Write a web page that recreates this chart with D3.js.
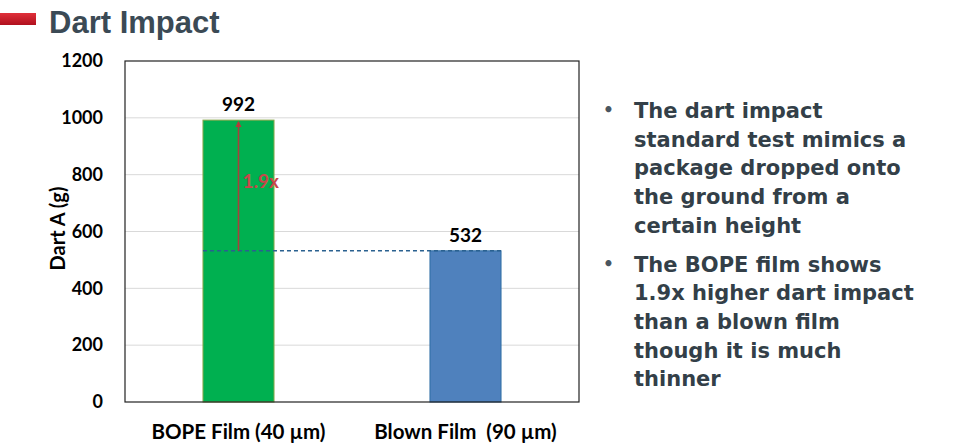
<!DOCTYPE html>
<html>
<head>
<meta charset="utf-8">
<script src="https://cdn.jsdelivr.net/npm/d3@7"></script>
<style>
  body { margin: 0; background: #fff; }
  svg text { font-family: Lato, "Open Sans", sans-serif; font-weight: bold; white-space: pre; }
</style>
</head>
<body>
<div id="chart"></div>
<script>
var categories = ["BOPE Film (40 \u00b5m)", "Blown Film  (90 \u00b5m)"];
var dartValues = [992, 532];
var barColors = ["#00b050", "#4f81bd"];
var barStrokes = ["#8aa84a", "#2e6da4"];
var yTicks = [0, 200, 400, 600, 800, 1000, 1200];
var ratioLabel = "1.9x";
var bullets = [
  ["The dart impact", "standard test mimics a", "package dropped onto", "the ground from a", "certain height"],
  ["The BOPE film shows", "1.9x higher dart impact", "than a blown film", "though it is much", "thinner"]
];

var w = 959, h = 445;
var plotLeft = 125, plotRight = 579, plotTop = 61, plotBottom = 402;

var svg = d3.select("#chart").append("svg")
  .attr("width", w)
  .attr("height", h);

// title with the red marker
var defs = svg.append("defs");
var grad = defs.append("linearGradient")
  .attr("id", "redbar").attr("x1", 0).attr("y1", 0).attr("x2", 0).attr("y2", 1);
grad.append("stop").attr("offset", "0%").attr("stop-color", "#e0303a");
grad.append("stop").attr("offset", "100%").attr("stop-color", "#b0101e");
svg.append("rect")
  .attr("x", 0).attr("y", 13).attr("width", 36).attr("height", 12)
  .attr("fill", "url(#redbar)");
svg.append("text")
  .attr("x", 49).attr("y", 33)
  .style("font-family", "'Liberation Sans', Arial, sans-serif")
  .style("font-size", "31px")
  .attr("fill", "#3b4a55")
  .text("Dart Impact");

var x = d3.scaleBand()
  .domain(categories)
  .range([plotLeft, plotRight])
  .paddingInner(0.687)
  .paddingOuter(0.3435);

var y = d3.scaleLinear()
  .domain([0, 1200])
  .range([plotBottom, plotTop]);

// horizontal gridlines
svg.selectAll("line.grid")
  .data(yTicks.slice(1, -1))
  .enter().append("line")
    .attr("class", "grid")
    .attr("x1", plotLeft).attr("x2", plotRight)
    .attr("y1", function(d){ return y(d); })
    .attr("y2", function(d){ return y(d); })
    .style("stroke", "#d9d9d9")
    .style("stroke-width", 1);

// bars
svg.selectAll("rect.bar")
  .data(dartValues)
  .enter().append("rect")
    .attr("class", "bar")
    .attr("x", function(d, i){ return x(categories[i]); })
    .attr("y", function(d){ return y(d); })
    .attr("width", x.bandwidth())
    .attr("height", function(d){ return y(0) - y(d); })
    .attr("fill", function(d, i){ return barColors[i]; })
    .style("stroke", function(d, i){ return barStrokes[i]; })
    .style("stroke-width", 1);

// value labels
svg.selectAll("text.val")
  .data(dartValues)
  .enter().append("text")
    .attr("class", "val")
    .attr("x", function(d, i){ return x(categories[i]) + x.bandwidth() / 2; })
    .attr("y", function(d){ return y(d) - 9; })
    .attr("text-anchor", "middle")
    .style("font-size", "19px")
    .attr("fill", "#000")
    .text(function(d){ return d; });

// plot frame
svg.append("rect")
  .attr("x", plotLeft).attr("y", plotTop)
  .attr("width", plotRight - plotLeft).attr("height", plotBottom - plotTop)
  .attr("fill", "none")
  .style("stroke", "#222")
  .style("stroke-width", 1.2);

// y axis
var yAxis = svg.append("g")
  .attr("transform", "translate(" + plotLeft + ",0)")
  .call(d3.axisLeft(y).tickValues(yTicks).tickFormat(d3.format("d")).tickSize(0).tickPadding(22));
yAxis.select(".domain").remove();
yAxis.selectAll("text")
  .style("font-size", "18px")
  .style("font-family", "Lato, sans-serif")
  .attr("fill", "#000");

svg.append("text")
  .attr("transform", "translate(65," + ((plotTop + plotBottom) / 2 - 3) + ") rotate(-90)")
  .attr("text-anchor", "middle")
  .style("font-size", "20px")
  .attr("fill", "#000")
  .text("Dart A (g)");

// x axis labels
var xAxis = svg.append("g")
  .attr("transform", "translate(0," + plotBottom + ")")
  .call(d3.axisBottom(x).tickSize(0).tickPadding(22));
xAxis.select(".domain").remove();
xAxis.selectAll("text")
  .style("font-size", "20.5px")
  .style("font-family", "Lato, sans-serif")
  .attr("fill", "#000");

// dashed reference line at the blown film level
svg.append("line")
  .attr("x1", x(categories[0]))
  .attr("x2", x(categories[1]) + x.bandwidth())
  .attr("y1", y(dartValues[1]))
  .attr("y2", y(dartValues[1]))
  .style("stroke", "#2a6190")
  .style("stroke-width", 1.5)
  .style("stroke-dasharray", "4,3");

// arrow showing the ratio
defs.append("marker")
  .attr("id", "arrowhead")
  .attr("viewBox", "0 0 10 10")
  .attr("refX", 8).attr("refY", 5)
  .attr("markerWidth", 4).attr("markerHeight", 4)
  .attr("orient", "auto")
  .append("path")
    .attr("d", "M0,0 L10,5 L0,10 z")
    .attr("fill", "#b53a3a");

var arrowX = x(categories[0]) + x.bandwidth() / 2;
svg.append("line")
  .attr("x1", arrowX).attr("x2", arrowX)
  .attr("y1", y(dartValues[1]))
  .attr("y2", y(dartValues[0]) + 2)
  .style("stroke", "#a8403c")
  .style("stroke-width", 1.6)
  .attr("marker-end", "url(#arrowhead)");

svg.append("text")
  .attr("x", arrowX + 4)
  .attr("y", y(800) + 13)
  .style("font-size", "19px")
  .attr("fill", "#c8474a")
  .text(ratioLabel);

// bullet text on the right
var lineH = 28.7;
var lineY = 118;
bullets.forEach(function(group) {
  svg.append("text")
    .attr("x", 603).attr("y", lineY - 2)
    .style("font-family", "'DejaVu Sans', Verdana, sans-serif")
    .style("font-size", "17px")
    .attr("fill", "#4a5660")
    .text("\u2022");
  group.forEach(function(line) {
    svg.append("text")
      .attr("x", 634).attr("y", lineY)
      .style("font-family", "'DejaVu Sans', Verdana, sans-serif")
      .style("font-size", "21px")
      .attr("fill", "#333f48")
      .text(line);
    lineY += lineH;
  });
  lineY += 10;
});
</script>
</body>
</html>
